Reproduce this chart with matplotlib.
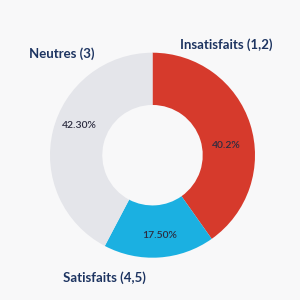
import matplotlib
matplotlib.use("Agg")
import matplotlib.pyplot as plt
import numpy as np

categories = ["Insatisfaits (1,2)", "Satisfaits (4,5)", "Neutres (3)"]
values = [40.2, 17.5, 42.3]
pct_labels = ["40.2%", "17.50%", "42.30%"]
colors = ["#d63a2c", "#1bb0e1", "#e4e5ea"]

bg = "#f8f8f9"
navy = "#1d3461"
plt.rcParams["font.family"] = ["Lato", "DejaVu Sans"]

fig = plt.figure(figsize=(3, 3), dpi=100, facecolor=bg)
ax = fig.add_axes([0, 0, 1, 1])
ax.set_facecolor(bg)

R = 102.5
cx, cy = 152.5, 144.8  # centre in pixels from bottom-left
wedges, _ = ax.pie(values, colors=colors, startangle=90, counterclock=False,
                   radius=1, wedgeprops=dict(width=0.51, edgecolor="none"))
ax.set_xlim(-cx / R, (300 - cx) / R)
ax.set_ylim(-cy / R, (300 - cy) / R)
ax.set_aspect("equal")
ax.axis("off")

# percentage labels (pixel positions, converted to data units)
pct_pos = [(226, 145), (160, 236), (79.5, 125)]
for txt, (px, py) in zip(pct_labels, pct_pos):
    ax.text((px - cx) / R, (300 - py - cy) / R, txt, ha="center", va="center",
            fontsize=7.5, fontweight="semibold", color="#2c2c40")

cat_pos = [(226, 45), (104, 278), (62, 54)]
for txt, (px, py) in zip(categories, cat_pos):
    ax.text((px - cx) / R, (300 - py - cy) / R, txt, ha="center", va="center",
            fontsize=9.5, fontweight="bold", color=navy)

fig.savefig("out.png", dpi=100, facecolor=bg)
